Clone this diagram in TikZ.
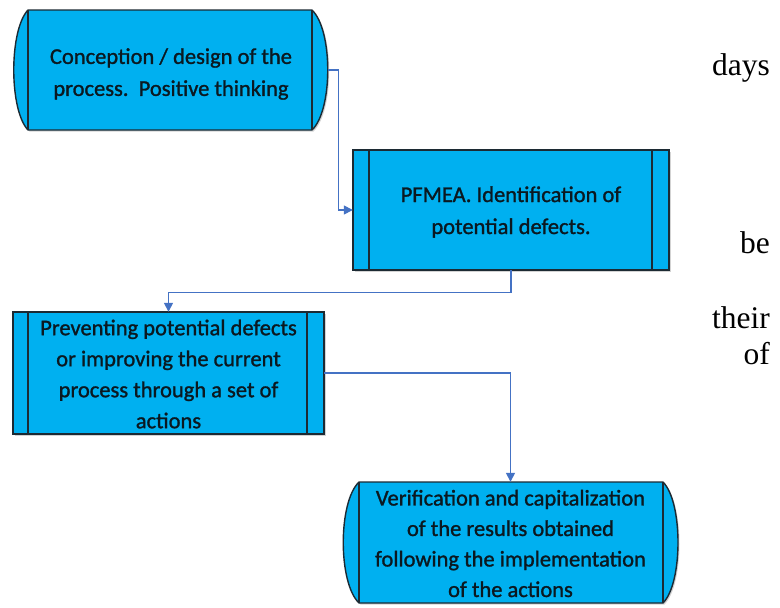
\documentclass[tikz,border=0pt]{standalone}
\usepackage{fontspec}
\setmainfont{Liberation Serif}
\newfontfamily\boxfont[FakeBold=1.2]{Carlito}
\usetikzlibrary{arrows.meta,shadows}
\definecolor{boxfill}{HTML}{00B0F0}
\definecolor{boxline}{HTML}{1C2A33}
\definecolor{boxtext}{HTML}{0B1820}
\definecolor{link}{HTML}{4472C4}

\begin{document}
\begin{tikzpicture}[x=1pt,y=-1pt,
  shape fill/.style={fill=boxfill, draw=boxline, line width=1.4pt,
    drop shadow={shadow xshift=1.5pt, shadow yshift=-1.5pt, opacity=0.35}},
  divider/.style={draw=boxline, line width=1.4pt},
  label/.style={inner sep=0pt, align=center, text=boxtext,
    font=\boxfont\fontsize{22.5}{32}\selectfont},
  flow/.style={draw=link, line width=1.4pt, -{Triangle[length=9pt,width=9pt]}},
  margin word/.style={anchor=base east, inner sep=0pt,
    font=\fontsize{31.5}{32}\selectfont}]
\useasboundingbox (0,0) rectangle (780,608);

% step 1: terminator shape with rounded ends
\path[shape fill] (28,10) -- (312,10)
  .. controls (333,30) and (333,110) .. (312,130) -- (28,130)
  .. controls (9,110) and (9,30) .. (28,10) -- cycle;
\draw[divider] (28,10) -- (28,130) (312,10) -- (312,130);
\node[label, minimum width=314pt, minimum height=120pt] (b1) at (171,70)
  {};
\node[label] (t1) at (171,74)
  {Conception / design of the\\process.\ \ Positive thinking};

% step 2: predefined process box
\path[shape fill] (353,150) rectangle (669,270);
\draw[divider] (369,150) -- (369,270) (652,150) -- (652,270);
\node[label, minimum width=316pt, minimum height=120pt] (b2) at (511,210)
  {};
\node[label] (t2) at (511,212)
  {PFMEA. Identification of\\potential defects.};

% step 3: predefined process box
\path[shape fill] (13,312) rectangle (324,434);
\draw[divider] (28,312) -- (28,434) (307,312) -- (307,434);
\node[label, minimum width=311pt, minimum height=122pt] (b3) at (168.5,373)
  {};
\node[label, font=\boxfont\fontsize{22.5}{31}\selectfont] (t3) at (168.5,374)
  {Preventing potential defects\\or improving the current\\process through a set of\\actions};

% step 4: terminator shape with rounded ends
\path[shape fill] (359,482) -- (663,482)
  .. controls (683,502) and (683,583) .. (663,603) -- (359,603)
  .. controls (338,583) and (338,502) .. (359,482) -- cycle;
\draw[divider] (359,482) -- (359,603) (663,482) -- (663,603);
\node[label, minimum width=335pt, minimum height=121pt] (b4) at (510.5,542.5)
  {};
\node[label, font=\boxfont\fontsize{22.5}{30.5}\selectfont] (t4) at (510.5,543.5)
  {Verification and capitalization\\of the results obtained\\following the implementation\\of the actions};

% connectors
\draw[flow] (b1.east) -- ++(10,0) |- (b2.west);
\draw[flow] (b2.south) -- ++(0,22) -| (b3.north);
\draw[flow] (b3.east) -| (b4.north);

% words of the surrounding page text
\node[margin word] (w1) at (770,75) {days};
\node[margin word] (w2) at (770,253) {be};
\node[margin word] (w3) at (770,328) {their};
\node[margin word] (w4) at (770,364) {of};
\end{tikzpicture}
\end{document}
